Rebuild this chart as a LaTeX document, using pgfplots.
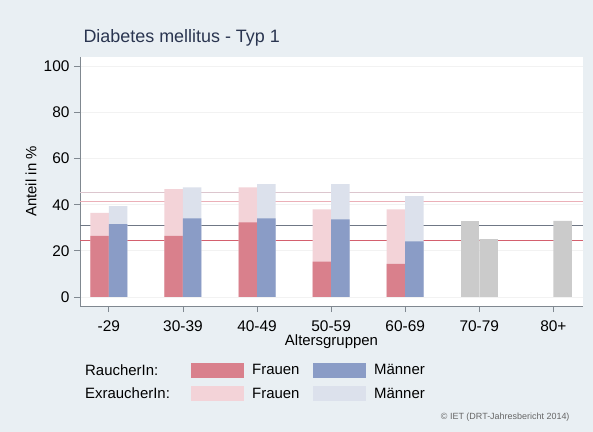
\documentclass[border=0pt]{standalone}
\usepackage{pgfplots}
\pgfplotsset{compat=1.18}
\usepackage{fontspec}
\setmainfont{Liberation Sans}

\definecolor{bgc}{HTML}{E9EFF3}
\definecolor{fdark}{HTML}{D9808C}
\definecolor{flight}{HTML}{F3D3D8}
\definecolor{mdark}{HTML}{8A9CC6}
\definecolor{mlight}{HTML}{DCE1EC}
\definecolor{grey}{HTML}{CBCBCB}
\definecolor{titlec}{HTML}{2A3550}
\definecolor{axisc}{HTML}{808890}
\definecolor{lineA}{HTML}{DCC6CE}
\definecolor{lineB}{HTML}{EBB0B8}
\definecolor{lineC}{HTML}{6F7785}
\definecolor{lineD}{HTML}{D4606E}

\pgfplotsset{
  swatch/.style={legend image code/.code={\fill[##1, draw=none] (0bp,-7.5bp) rectangle (53bp,7.5bp);}},
}

\begin{document}
\begin{tikzpicture}
\useasboundingbox (0,0) rectangle (593bp,432bp);
\fill[bgc] (0,0) rectangle (593bp,432bp);
\begin{axis}[
  at={(80bp,126bp)}, anchor=south west,
  scale only axis, width=503bp, height=249bp,
  xmin=-0.39, xmax=6.4, ymin=-3.9, ymax=104,
  axis background/.style={fill=white},
  axis x line*=bottom, axis y line*=left,
  axis line style={axisc, line width=0.8pt},
  every tick/.style={axisc, line width=0.8pt},
  tick align=outside, major tick length=6bp,
  xtick={0,...,6},
  xticklabels={-29,30-39,40-49,50-59,60-69,70-79,80+},
  ytick={0,20,...,100},
  ymajorgrids, major grid style={draw=gray!10, line width=0.8pt},
  /pgf/number format/assume math mode=true,
  tick label style={font=\fontsize{15.5}{17}\selectfont, black},
  xticklabel style={yshift=-5bp},
  yticklabel style={xshift=-1bp},
  xlabel={Altersgruppen}, ylabel={Anteil in \%},
  every axis x label/.style={at={(axis description cs:0.5,0)}, yshift=-36bp, anchor=center, font=\fontsize{15}{17}\selectfont},
  every axis y label/.style={at={(axis description cs:0,0.5)}, xshift=-49bp, rotate=90, anchor=center, font=\fontsize{15}{17}\selectfont},
  title={Diabetes mellitus - Typ 1},
  title style={at={(axis description cs:0,1)}, anchor=west, yshift=13bp, xshift=0bp, font=\fontsize{18}{21}\selectfont, text=titlec},
  legend columns=3,
  legend cell align=left,
  legend style={at={(axis description cs:0,0)}, anchor=north west, xshift=3bp, yshift=-56bp,
    draw=none, fill=none, inner sep=0pt, row sep=7bp,
    font=\fontsize{15}{17}\selectfont},
]
% reference lines
\addplot[forget plot, color=lineA, line width=1pt] coordinates {(-0.39,45.1) (6.4,45.1)};
\addplot[forget plot, color=lineB, line width=1pt] coordinates {(-0.39,41.3) (6.4,41.3)};
\addplot[forget plot, color=lineC, line width=1pt] coordinates {(-0.39,31.2) (6.4,31.2)};
\addplot[forget plot, color=lineD, line width=1pt] coordinates {(-0.39,24.4) (6.4,24.4)};
% Frauen: RaucherIn + ExraucherIn (total), RaucherIn
\addplot[forget plot, ybar, bar width=18.5bp, bar shift=-9.25bp, fill=flight, draw=none] coordinates {
  (0,36.5) (1,46.7) (2,47.5) (3,38.0) (4,38.0)};
\addplot[forget plot, ybar, bar width=18.5bp, bar shift=-9.25bp, fill=fdark, draw=none] coordinates {
  (0,26.5) (1,26.5) (2,32.3) (3,15.3) (4,14.3)};
% Maenner
\addplot[forget plot, ybar, bar width=18.5bp, bar shift=9.25bp, fill=mlight, draw=none] coordinates {
  (0,39.4) (1,47.5) (2,48.9) (3,48.9) (4,43.7)};
\addplot[forget plot, ybar, bar width=18.5bp, bar shift=9.25bp, fill=mdark, draw=none] coordinates {
  (0,31.6) (1,34.1) (2,34.1) (3,33.6) (4,24.1)};
% grey groups
\addplot[forget plot, ybar, bar width=18.5bp, bar shift=-9.25bp, fill=grey, draw=none] coordinates {(5,33.0)};
\addplot[forget plot, ybar, bar width=18.5bp, bar shift=9.25bp, fill=grey, draw=none] coordinates {(5,25.1) (6,33.0)};

\addlegendimage{empty legend}
\addlegendentry{\makebox[104bp][l]{RaucherIn:}}
\addlegendimage{swatch, fill=fdark}
\addlegendentry{\hspace{6bp}\makebox[59bp][l]{Frauen}}
\addlegendimage{swatch, fill=mdark}
\addlegendentry{\hspace{6bp}Männer}
\addlegendimage{empty legend}
\addlegendentry{\makebox[104bp][l]{ExraucherIn:}}
\addlegendimage{swatch, fill=flight}
\addlegendentry{\hspace{6bp}\makebox[59bp][l]{Frauen}}
\addlegendimage{swatch, fill=mlight}
\addlegendentry{\hspace{6bp}Männer}
\end{axis}
\node[anchor=east, font=\fontsize{9}{11}\selectfont, text=gray!80!black] at (573bp,15bp) {© IET (DRT-Jahresbericht 2014)};
\end{tikzpicture}
\end{document}
